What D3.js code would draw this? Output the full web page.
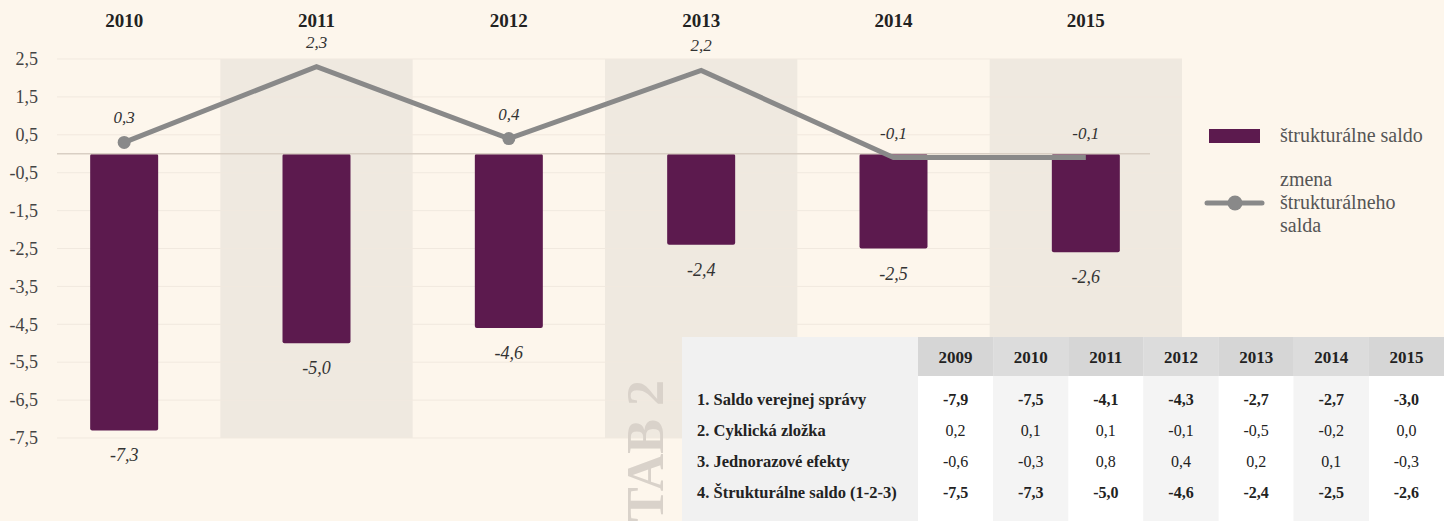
<!DOCTYPE html>
<html>
<head>
<meta charset="utf-8">
<script src="https://cdn.jsdelivr.net/npm/d3@7"></script>
<style>
  html, body { margin: 0; padding: 0; background: #fdf6ec; }
  svg { display: block; font-family: 'Liberation Serif', 'DejaVu Serif', serif; }
</style>
</head>
<body>
<svg id="chart" width="1444" height="521"></svg>
<script>
// chart data
const years = ['2010', '2011', '2012', '2013', '2014', '2015'];
const strukturalneSaldo = [-7.3, -5.0, -4.6, -2.4, -2.5, -2.6];
const zmenaSalda = [0.3, 2.3, 0.4, 2.2, -0.1, -0.1];
const zmenaMarker = [true, false, true, false, false, false];
const yTicks = [2.5, 1.5, 0.5, -0.5, -1.5, -2.5, -3.5, -4.5, -5.5, -6.5, -7.5];

// table data
const tableYears = ['2009', '2010', '2011', '2012', '2013', '2014', '2015'];
const tableRows = [
  '1. Saldo verejnej  správy',
  '2. Cyklická zložka',
  '3. Jednorazové efekty',
  '4. Štrukturálne saldo (1-2-3)'
];
const saldoVS = [-7.9, -7.5, -4.1, -4.3, -2.7, -2.7, -3.0];
const cyklicka = [0.2, 0.1, 0.1, -0.1, -0.5, -0.2, 0.0];
const jednorazove = [-0.6, -0.3, 0.8, 0.4, 0.2, 0.1, -0.3];
const strukturalne = [-7.5, -7.3, -5.0, -4.6, -2.4, -2.5, -2.6];
const boldRows = [true, false, false, true];

const fmt = v => d3.format('.1f')(v).replace('.', ',').replace('−', '-');

const svg = d3.select('svg#chart');

const x = d3.scaleBand().domain(years).range([28, 1182]);
const y = d3.scaleLinear().domain([-7.5, 2.5]).range([438, 59]);

// shaded bands for every other year
svg.append('g')
  .selectAll('rect')
  .data(years.filter((d, i) => i % 2 === 1))
  .enter()
  .append('rect')
  .attr('x', d => x(d))
  .attr('y', y(2.5))
  .attr('width', x.bandwidth())
  .attr('height', y(-7.5) - y(2.5))
  .attr('fill', '#efe9e0');

// grid
svg.append('g')
  .selectAll('line')
  .data(yTicks)
  .enter()
  .append('line')
  .attr('x1', 57)
  .attr('x2', 1182)
  .attr('y1', d => y(d))
  .attr('y2', d => y(d))
  .attr('stroke', '#f1e9df')
  .attr('stroke-width', 1);

// y axis labels
const yAxis = d3.axisLeft(y).tickValues(yTicks).tickFormat(fmt).tickSize(0).tickPadding(0);
const gy = svg.append('g').attr('transform', 'translate(38,0)').call(yAxis);
gy.select('.domain').remove();
gy.selectAll('text')
  .attr('font-family', "'Liberation Serif', serif")
  .attr('font-size', 18)
  .attr('fill', '#444');

// year labels on top
const xAxis = d3.axisTop(x).tickSize(0).tickPadding(0);
const gx = svg.append('g').attr('transform', 'translate(0,27)').call(xAxis);
gx.select('.domain').remove();
gx.selectAll('text')
  .attr('font-family', "'Liberation Serif', serif")
  .attr('font-size', 19)
  .attr('font-weight', 'bold')
  .attr('fill', '#222');

// bars
const barW = 68;
svg.append('g')
  .selectAll('rect')
  .data(strukturalneSaldo)
  .enter()
  .append('rect')
  .attr('x', (d, i) => x(years[i]) + x.bandwidth() / 2 - barW / 2)
  .attr('y', y(0))
  .attr('width', barW)
  .attr('height', d => y(d) - y(0))
  .attr('rx', 2)
  .attr('fill', '#5c1a4e');

// zero line
svg.append('line')
  .attr('x1', 57)
  .attr('x2', 1150)
  .attr('y1', y(0))
  .attr('y2', y(0))
  .attr('stroke', '#d9cfc4')
  .attr('stroke-width', 1.5);

// bar labels
svg.append('g')
  .selectAll('text')
  .data(strukturalneSaldo)
  .enter()
  .append('text')
  .attr('x', (d, i) => x(years[i]) + x.bandwidth() / 2)
  .attr('y', d => y(d) + 31)
  .attr('text-anchor', 'middle')
  .attr('font-size', 18)
  .attr('font-style', 'italic')
  .attr('fill', '#333')
  .text(fmt);

// line
const cx = i => x(years[i]) + x.bandwidth() / 2;
const line = d3.line().x((d, i) => cx(i)).y(d => y(d));
svg.append('path')
  .datum(zmenaSalda)
  .attr('d', line)
  .attr('fill', 'none')
  .attr('stroke', '#898989')
  .attr('stroke-width', 5);

svg.append('g')
  .selectAll('circle')
  .data(zmenaSalda.map((v, i) => ({ v, i })).filter(d => zmenaMarker[d.i]))
  .enter()
  .append('circle')
  .attr('cx', d => cx(d.i))
  .attr('cy', d => y(d.v))
  .attr('r', 6.5)
  .attr('fill', '#898989');

svg.append('g')
  .selectAll('text')
  .data(zmenaSalda)
  .enter()
  .append('text')
  .attr('x', (d, i) => cx(i))
  .attr('y', d => y(d) - 19)
  .attr('text-anchor', 'middle')
  .attr('font-size', 17)
  .attr('font-style', 'italic')
  .attr('fill', '#333')
  .text(fmt);

// legend
const lg = svg.append('g');
lg.append('rect').attr('x', 1209).attr('y', 129).attr('width', 51).attr('height', 14).attr('fill', '#5c1a4e');
lg.append('text').attr('x', 1280).attr('y', 142).attr('font-size', 20).attr('fill', '#555').text('štrukturálne saldo');
lg.append('line').attr('x1', 1207).attr('x2', 1262).attr('y1', 203).attr('y2', 203)
  .attr('stroke', '#898989').attr('stroke-width', 5).attr('stroke-linecap', 'round');
lg.append('circle').attr('cx', 1235).attr('cy', 203).attr('r', 7.5).attr('fill', '#898989');
lg.selectAll('text.l2')
  .data(['zmena', 'štrukturálneho', 'salda'])
  .enter()
  .append('text')
  .attr('class', 'l2')
  .attr('x', 1280)
  .attr('y', (d, i) => 186 + i * 23)
  .attr('font-size', 20)
  .attr('fill', '#555')
  .text(d => d);

// "TAB 2" watermark
svg.append('text')
  .attr('transform', 'translate(663,451) rotate(-90)')
  .attr('text-anchor', 'middle')
  .attr('font-size', 52)
  .attr('font-weight', 'bold')
  .attr('fill', '#d9d2ca')
  .text('TAB 2');

// table
const tbl = svg.append('g');
const tx = d3.scaleBand().domain(tableYears).range([918, 1444]);
const ty = d3.scaleBand().domain(tableRows).range([384, 509]);
const tableValues = [saldoVS, cyklicka, jednorazove, strukturalne];

tbl.append('rect').attr('x', 682).attr('y', 337).attr('width', 762).attr('height', 184).attr('fill', '#f1f1f1');
tbl.selectAll('rect.col')
  .data(tableYears)
  .enter()
  .append('rect')
  .attr('class', 'col')
  .attr('x', d => tx(d))
  .attr('y', 376)
  .attr('width', tx.bandwidth())
  .attr('height', 145)
  .attr('fill', (d, i) => (i % 2 === 0 ? '#ffffff' : '#f4f4f4'));
tbl.selectAll('rect.head')
  .data(tableYears)
  .enter()
  .append('rect')
  .attr('class', 'head')
  .attr('x', d => tx(d))
  .attr('y', 337)
  .attr('width', tx.bandwidth())
  .attr('height', 39)
  .attr('fill', (d, i) => (i % 2 === 0 ? '#d6d6d6' : '#dcdcdc'));
tbl.selectAll('text.head')
  .data(tableYears)
  .enter()
  .append('text')
  .attr('class', 'head')
  .attr('x', d => tx(d) + tx.bandwidth() / 2)
  .attr('y', 363)
  .attr('text-anchor', 'middle')
  .attr('font-size', 17)
  .attr('font-weight', 'bold')
  .attr('fill', '#222')
  .text(d => d);
tbl.selectAll('text.row')
  .data(tableRows)
  .enter()
  .append('text')
  .attr('class', 'row')
  .attr('x', 697)
  .attr('y', d => ty(d) + ty.bandwidth() / 2 + 5)
  .attr('font-size', 16.5)
  .attr('font-weight', 'bold')
  .attr('fill', '#222')
  .text(d => d);
tableValues.forEach((vals, r) => {
  tbl.append('g')
    .selectAll('text')
    .data(vals)
    .enter()
    .append('text')
    .attr('x', (d, i) => tx(tableYears[i]) + tx.bandwidth() / 2)
    .attr('y', ty(tableRows[r]) + ty.bandwidth() / 2 + 5)
    .attr('text-anchor', 'middle')
    .attr('font-size', 16)
    .attr('font-weight', boldRows[r] ? 'bold' : 'normal')
    .attr('fill', '#222')
    .text(fmt);
});
</script>
</body>
</html>
